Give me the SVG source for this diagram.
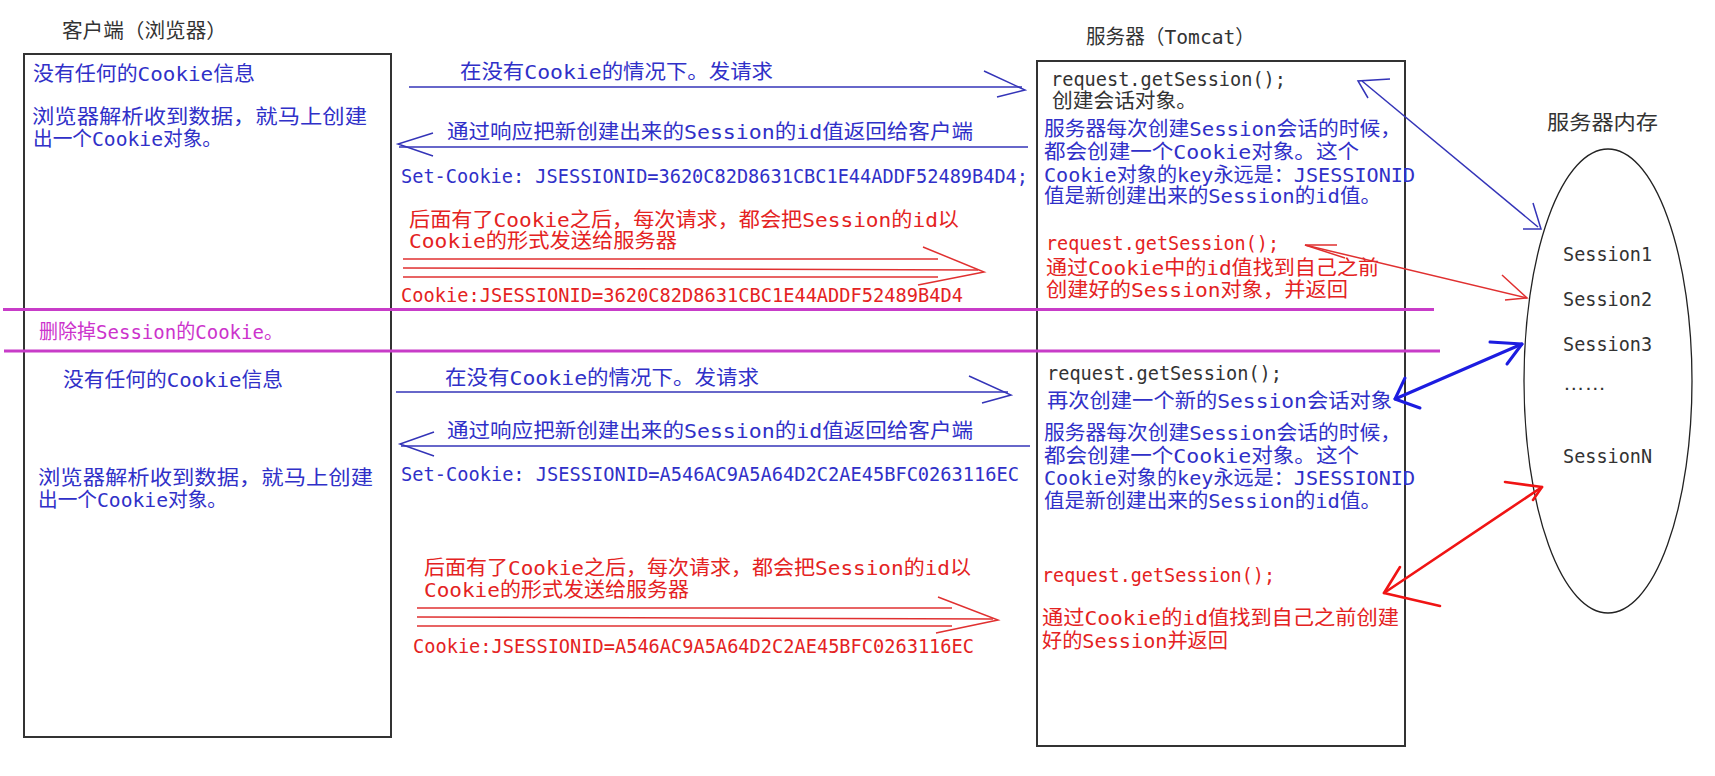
<svg xmlns="http://www.w3.org/2000/svg" width="1715" height="776" viewBox="0 0 1715 776">
<defs>
<style>
text{font-family:"DejaVu Sans Mono","Noto Sans CJK SC",monospace;font-size:20px}
text.dots{font-family:"Liberation Sans",sans-serif}
.bk{fill:#333}
.bl{fill:#3030c8}
.rd{fill:#e42222}
.mg{fill:#cc33cc}
.box{fill:none;stroke:#333;stroke-width:2}
.div{stroke:#c83cc8;stroke-width:3}
.lb{stroke:#3434b8;stroke-width:1.5;fill:none}
.lr{stroke:#e03030;stroke-width:1.5;fill:none}
.tb{stroke:#1c1ce0;stroke-width:3;fill:none;stroke-linecap:round;stroke-linejoin:round}
.tr{stroke:#f01414;stroke-width:2.6;fill:none;stroke-linecap:round;stroke-linejoin:round}
</style>
</defs>
<rect width="1715" height="776" fill="#fff"/>

<g id="client">
<rect class="box" x="24" y="54" width="367" height="683"/>
<text class="bk" x="62" y="38" textLength="165" lengthAdjust="spacingAndGlyphs">客户端（浏览器）</text>
<text class="bl" x="33" y="81" textLength="222" lengthAdjust="spacingAndGlyphs">没有任何的Cookie信息</text>
<text class="bl" x="32" y="124" textLength="335" lengthAdjust="spacingAndGlyphs">浏览器解析收到数据，就马上创建</text>
<text class="bl" x="33" y="146" textLength="189" lengthAdjust="spacingAndGlyphs">出一个Cookie对象。</text>
<text class="bl" x="63" y="387" textLength="220" lengthAdjust="spacingAndGlyphs">没有任何的Cookie信息</text>
<text class="bl" x="38" y="485" textLength="335" lengthAdjust="spacingAndGlyphs">浏览器解析收到数据，就马上创建</text>
<text class="bl" x="38" y="507" textLength="189" lengthAdjust="spacingAndGlyphs">出一个Cookie对象。</text>
</g>

<g id="server">
<rect class="box" x="1037" y="61" width="368" height="685"/>
<text class="bk" x="1086" y="44" textLength="169" lengthAdjust="spacingAndGlyphs">服务器（Tomcat）</text>
<text class="bk" x="1051" y="86" textLength="235" lengthAdjust="spacingAndGlyphs">request.getSession();</text>
<text class="bk" x="1052" y="108" textLength="145" lengthAdjust="spacingAndGlyphs">创建会话对象。</text>
<text class="bl" x="1044" y="136" textLength="357" lengthAdjust="spacingAndGlyphs">服务器每次创建Session会话的时候，</text>
<text class="bl" x="1044" y="159" textLength="315" lengthAdjust="spacingAndGlyphs">都会创建一个Cookie对象。这个</text>
<text class="bl" x="1044" y="182" textLength="371" lengthAdjust="spacingAndGlyphs">Cookie对象的key永远是：JSESSIONID</text>
<text class="bl" x="1044" y="203" textLength="337" lengthAdjust="spacingAndGlyphs">值是新创建出来的Session的id值。</text>
<text class="rd" x="1046" y="250" textLength="233" lengthAdjust="spacingAndGlyphs">request.getSession();</text>
<text class="rd" x="1046" y="275" textLength="333" lengthAdjust="spacingAndGlyphs">通过Cookie中的id值找到自己之前</text>
<text class="rd" x="1046" y="297" textLength="302" lengthAdjust="spacingAndGlyphs">创建好的Session对象，并返回</text>
<text class="bk" x="1047" y="380" textLength="235" lengthAdjust="spacingAndGlyphs">request.getSession();</text>
<text class="bl" x="1047" y="408" textLength="345" lengthAdjust="spacingAndGlyphs">再次创建一个新的Session会话对象</text>
<text class="bl" x="1044" y="440" textLength="357" lengthAdjust="spacingAndGlyphs">服务器每次创建Session会话的时候，</text>
<text class="bl" x="1044" y="463" textLength="315" lengthAdjust="spacingAndGlyphs">都会创建一个Cookie对象。这个</text>
<text class="bl" x="1044" y="485" textLength="371" lengthAdjust="spacingAndGlyphs">Cookie对象的key永远是：JSESSIONID</text>
<text class="bl" x="1044" y="508" textLength="337" lengthAdjust="spacingAndGlyphs">值是新创建出来的Session的id值。</text>
<text class="rd" x="1042" y="582" textLength="233" lengthAdjust="spacingAndGlyphs">request.getSession();</text>
<text class="rd" x="1042" y="625" textLength="357" lengthAdjust="spacingAndGlyphs">通过Cookie的id值找到自己之前创建</text>
<text class="rd" x="1042" y="648" textLength="186" lengthAdjust="spacingAndGlyphs">好的Session并返回</text>
</g>

<g id="memory">
<text class="bk" x="1547" y="130" textLength="111" lengthAdjust="spacingAndGlyphs">服务器内存</text>
<ellipse cx="1608" cy="381" rx="84" ry="232" fill="none" stroke="#222" stroke-width="1.3"/>
<text class="bk" x="1563" y="261" textLength="89" lengthAdjust="spacingAndGlyphs">Session1</text>
<text class="bk" x="1563" y="306" textLength="89" lengthAdjust="spacingAndGlyphs">Session2</text>
<text class="bk" x="1563" y="351" textLength="89" lengthAdjust="spacingAndGlyphs">Session3</text>
<text class="bk dots" x="1563" y="390" textLength="43" lengthAdjust="spacingAndGlyphs">……</text>
<text class="bk" x="1563" y="463" textLength="89" lengthAdjust="spacingAndGlyphs">SessionN</text>
</g>

<g id="divider">
<line class="div" x1="3" y1="309.5" x2="1434" y2="309.5"/>
<line class="div" x1="4" y1="351" x2="1440" y2="351"/>
<text class="mg" x="39" y="339" textLength="244" lengthAdjust="spacingAndGlyphs">删除掉Session的Cookie。</text>
</g>

<g id="connectors">
<line class="lb" x1="409" y1="87" x2="1022" y2="87"/>
<polyline class="lb" points="984,71 1025,90 997,97"/>
<text class="bl" x="460" y="79" textLength="313" lengthAdjust="spacingAndGlyphs">在没有Cookie的情况下。发请求</text>

<line class="lb" x1="399" y1="147" x2="1028" y2="147"/>
<polyline class="lb" points="433,133 398,144 433,156"/>
<text class="bl" x="447" y="139" textLength="526" lengthAdjust="spacingAndGlyphs">通过响应把新创建出来的Session的id值返回给客户端</text>
<text class="bl" x="401" y="183" textLength="627" lengthAdjust="spacingAndGlyphs">Set-Cookie: JSESSIONID=3620C82D8631CBC1E44ADDF52489B4D4;</text>

<text class="rd" x="409" y="227" textLength="550" lengthAdjust="spacingAndGlyphs">后面有了Cookie之后，每次请求，都会把Session的id以</text>
<text class="rd" x="409" y="248" textLength="268" lengthAdjust="spacingAndGlyphs">Cookie的形式发送给服务器</text>
<line class="lr" x1="403" y1="259" x2="938" y2="259"/>
<line class="lr" x1="403" y1="268" x2="978" y2="270"/>
<line class="lr" x1="403" y1="277" x2="938" y2="277"/>
<polyline class="lr" points="923,247 984,272 918,285"/>
<text class="rd" x="401" y="302" textLength="562" lengthAdjust="spacingAndGlyphs">Cookie:JSESSIONID=3620C82D8631CBC1E44ADDF52489B4D4</text>

<line class="lb" x1="396" y1="392" x2="1008" y2="392"/>
<polyline class="lb" points="969,376 1011,395 982,403"/>
<text class="bl" x="445" y="385" textLength="314" lengthAdjust="spacingAndGlyphs">在没有Cookie的情况下。发请求</text>

<line class="lb" x1="401" y1="446" x2="1030" y2="446"/>
<polyline class="lb" points="434,432 400,444 434,456"/>
<text class="bl" x="447" y="438" textLength="526" lengthAdjust="spacingAndGlyphs">通过响应把新创建出来的Session的id值返回给客户端</text>
<text class="bl" x="401" y="481" textLength="618" lengthAdjust="spacingAndGlyphs">Set-Cookie: JSESSIONID=A546AC9A5A64D2C2AE45BFC0263116EC</text>

<text class="rd" x="424" y="575" textLength="547" lengthAdjust="spacingAndGlyphs">后面有了Cookie之后，每次请求，都会把Session的id以</text>
<text class="rd" x="424" y="597" textLength="265" lengthAdjust="spacingAndGlyphs">Cookie的形式发送给服务器</text>
<line class="lr" x1="417" y1="608" x2="952" y2="608"/>
<line class="lr" x1="417" y1="617" x2="993" y2="619"/>
<line class="lr" x1="417" y1="626" x2="952" y2="626"/>
<polyline class="lr" points="938,597 998,620 936,633"/>
<text class="rd" x="413" y="653" textLength="561" lengthAdjust="spacingAndGlyphs">Cookie:JSESSIONID=A546AC9A5A64D2C2AE45BFC0263116EC</text>

<line class="lb" x1="1362" y1="81" x2="1538" y2="227"/>
<polyline class="lb" points="1390,79 1358,81 1368,98"/>
<polyline class="lb" points="1523,229 1541,229 1533,203"/>

<line class="lr" x1="1305" y1="245" x2="1527" y2="298"/>
<polyline class="lr" points="1337,245 1305,245 1345,258"/>
<polyline class="lr" points="1502,275 1527,298 1505,300"/>

<line class="tb" x1="1395" y1="399" x2="1522" y2="344"/>
<polyline class="tb" points="1405,378 1395,399 1420,408"/>
<polyline class="tb" points="1490,342 1522,344 1507,364"/>

<line class="tr" x1="1384" y1="593" x2="1542" y2="487"/>
<polyline class="tr" points="1400,567 1384,593 1440,606"/>
<polyline class="tr" points="1505,482 1542,487 1533,500"/>
</g>
</svg>
